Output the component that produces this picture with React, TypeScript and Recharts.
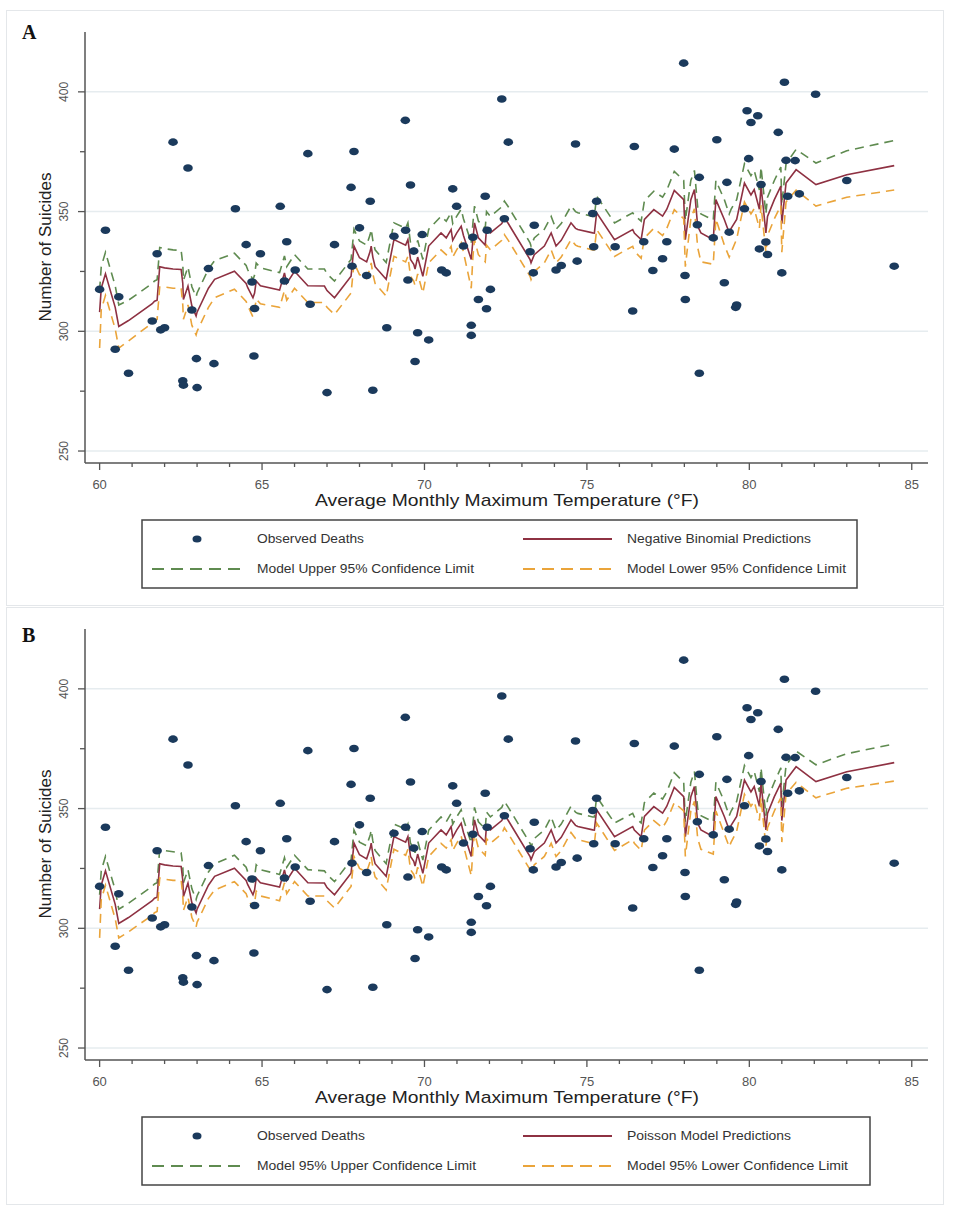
import React from "react";
import { ComposedChart, Scatter, Line, XAxis, YAxis, ReferenceLine } from "recharts";

// observed monthly suicide counts vs. average monthly max temperature
const obsTemp = [
  60.0, 60.18, 60.48, 60.59, 60.89, 61.62, 61.77, 61.88, 62.0, 62.26,
  62.56, 62.58, 62.72, 62.84, 62.98, 63.0, 63.35, 63.52, 64.18, 64.51,
  64.69, 64.75, 64.77, 64.95, 65.56, 65.69, 65.76, 66.02, 66.41, 66.48,
  67.0, 67.23, 67.74, 67.77, 67.83, 68.0, 68.22, 68.33, 68.41, 68.84,
  69.06, 69.41, 69.42, 69.49, 69.57, 69.67, 69.71, 69.79, 69.93, 70.13,
  70.53, 70.67, 70.87, 70.99, 71.2, 71.44, 71.44, 71.49, 71.66, 71.87,
  71.91, 71.93, 72.03, 72.38, 72.46, 72.58, 73.25, 73.35, 73.38, 74.05,
  74.21, 74.65, 74.7, 75.18, 75.21, 75.3, 75.87, 76.41, 76.46, 76.75,
  77.03, 77.33, 77.46, 77.69, 77.98, 78.02, 78.03, 78.4, 78.46, 78.46,
  78.89, 79.0, 79.23, 79.31, 79.38, 79.58, 79.61, 79.85, 79.93, 79.98,
  80.05, 80.26, 80.31, 80.36, 80.51, 80.56, 80.89, 81.0, 81.08, 81.13,
  81.18, 81.41, 81.54, 82.04, 83.0, 84.46,
];
const obsDeaths = [
  317.5, 342.2, 292.5, 314.4, 282.5, 304.3, 332.4, 300.6, 301.5, 379,
  279.3, 277.5, 368.2, 308.9, 288.6, 276.5, 326.2, 286.5, 351.2, 336.2,
  320.6, 289.7, 309.5, 332.4, 352.2, 321, 337.4, 325.6, 374.2, 311.3,
  274.4, 336.2, 360.1, 327.2, 375.1, 343.2, 323.3, 354.3, 275.4, 301.5,
  339.7, 388.1, 342.2, 321.4, 361.1, 333.5, 287.4, 299.4, 340.4, 296.4,
  325.6, 324.4, 359.5, 352.2, 335.6, 302.5, 298.3, 339.3, 313.3, 356.4,
  309.4, 342.2, 317.5, 397, 347, 379, 333.2, 324.4, 344.3, 325.6,
  327.5, 378.2, 329.3, 349.2, 335.3, 354.3, 335.3, 308.5, 377.2, 337.4,
  325.4, 330.3, 337.4, 376.1, 412, 323.3, 313.3, 344.5, 364.3, 282.5,
  339, 380, 320.3, 362.2, 341.4, 310, 311, 351.2, 392.1, 372.1,
  387.2, 390, 334.4, 361.3, 337.3, 332.1, 383.1, 324.4, 404, 371.4,
  356.4, 371.3, 357.4, 399, 363, 327.2,
];

// model curves (vertices of the prediction lines)
const predTemp = [
  60.0, 60.05, 60.18, 60.48, 60.59, 60.89, 61.62, 61.69, 61.77, 61.85,
  62.0, 62.26, 62.51, 62.56, 62.58, 62.72, 62.84, 62.97, 63.0, 63.35,
  63.54, 64.15, 64.51, 64.56, 64.72, 64.77, 64.82, 64.95, 65.54, 65.69,
  65.76, 66.0, 66.41, 66.92, 67.0, 67.23, 67.74, 67.77, 67.83, 68.0,
  68.22, 68.33, 68.36, 68.41, 68.48, 68.82, 68.84, 69.06, 69.42, 69.49,
  69.57, 69.67, 69.71, 69.79, 69.95, 70.13, 70.51, 70.67, 70.82, 70.87,
  70.99, 71.13, 71.2, 71.44, 71.49, 71.54, 71.66, 71.87, 71.91, 72.03,
  72.38, 72.46, 72.58, 73.25, 73.28, 73.38, 73.69, 73.9, 74.05, 74.21,
  74.51, 74.65, 74.72, 75.18, 75.23, 75.3, 75.85, 76.41, 76.46, 76.67,
  76.77, 77.06, 77.33, 77.46, 77.69, 77.98, 78.03, 78.2, 78.31, 78.41,
  78.51, 78.89, 78.97, 79.23, 79.38, 79.44, 79.61, 79.85, 80.05, 80.15,
  80.31, 80.36, 80.51, 80.56, 80.77, 80.97, 81.0, 81.13, 81.44, 82.05,
  83.0, 84.46,
];
const predNB = [
  308, 318, 324, 310, 302, 304.5, 311.5, 312.6, 313, 327,
  326.5, 326, 325.8, 320, 313.3, 318.9, 310.6, 306.4, 308, 318,
  321.7, 325.1, 320, 318.2, 314, 316, 321, 319, 317.2, 324.4,
  320, 325.1, 319, 318.9, 317, 314, 323, 327, 335.6, 330.7,
  329, 333.5, 335.6, 331, 327, 321.7, 323, 338.3, 336, 338.3,
  330, 328, 326, 331, 323, 335.6, 341.1, 339, 342.5, 338,
  341, 343.9, 340, 330, 338, 345.3, 339, 336, 343, 341.1,
  345, 347.4, 345, 330, 328.6, 332, 335.6, 341.1, 335.6, 338,
  345.3, 343, 342.5, 341.1, 341, 349.5, 338.3, 342.5, 341, 338.3,
  346.7, 350.8, 348.1, 351, 358.8, 355, 338.3, 355, 359.2, 343.9,
  341.1, 338.3, 355, 346.7, 341.1, 343, 346.7, 361.9, 357, 359.2,
  351, 360.6, 341.1, 348, 355, 360.6, 345, 361.9, 367.5, 361.3,
  365.4, 369.2,
];
const upperNB = [
  317, 327, 333, 319, 311, 313, 320, 321, 321.5, 335,
  334.5, 334, 333.8, 328, 321.3, 326.9, 318.6, 314.4, 316, 326,
  329.5, 332.6, 327.5, 325.7, 321.5, 323.5, 328.5, 326.5, 324.5, 331.5,
  327, 332, 326, 326, 324, 321, 330, 334, 342.6, 337.7,
  336, 340.5, 342.6, 338, 334, 328.7, 330, 345.3, 343, 345.3,
  337, 335, 333, 338, 330, 342.6, 348, 346, 349.5, 345,
  348, 351, 347, 337, 345, 352.3, 346, 343, 350, 348,
  352, 354.4, 352, 337, 335.6, 339, 342.6, 348, 342.6, 345,
  352.3, 350, 349.5, 348, 348, 356.5, 345.3, 349.5, 348.5, 346,
  354.5, 358.5, 356, 359, 366.8, 363, 346.3, 363, 367.2, 352,
  349, 346.5, 363, 355, 349, 351, 355, 370, 365, 367.2,
  359, 368.6, 349, 356, 363, 368.6, 353, 370, 376, 370.3,
  375.4, 379.7,
];
const lowerNB = [
  293, 309, 315, 301, 293, 296, 303.5, 304.6, 305, 318.5,
  318.5, 318, 318, 311, 305, 311, 302.5, 298.5, 300, 310,
  314, 317.6, 312.5, 310.7, 306, 308.5, 313.5, 311.5, 310, 317,
  313, 318, 312, 312, 310, 307, 316, 320, 328.6, 323.7,
  322, 326.5, 328.6, 324, 320, 314.7, 316, 331.3, 329, 331.3,
  323, 321, 319, 324, 316, 328.6, 334, 332, 335.5, 331,
  334, 337, 333, 318, 331, 338.3, 332, 329, 336, 334,
  338, 340.4, 338, 323, 321.6, 325, 328.6, 334, 328.6, 331,
  338.3, 336, 335.5, 334, 334, 342.5, 331.3, 335.5, 333.5, 330.5,
  339, 343, 340, 343, 350.8, 347, 327, 347, 351.2, 335,
  329, 328, 347, 336, 331, 333, 338.5, 354, 349, 351.2,
  343, 352.6, 333, 340, 347, 352.6, 333, 354, 359, 352.3,
  356, 359,
];
// the Poisson point predictions read the same as the negative binomial ones
const predPoisson = predNB;
const upperPoisson = [
  314, 324, 330, 316, 308, 310.5, 317.5, 318.5, 319, 333,
  332.5, 332, 331.5, 326, 319, 324.5, 316.5, 312, 313.5, 323.5,
  327, 330.5, 325.5, 323.5, 319.5, 321.5, 326.5, 324.5, 322.5, 329.5,
  325.5, 330.5, 324.5, 324, 322.5, 319.5, 328.5, 332.5, 341, 336,
  334.5, 339, 341, 336.5, 332.5, 327, 328.5, 343.5, 341.5, 343.5,
  335.5, 333.5, 331.5, 336.5, 328.5, 341, 346.5, 344.5, 348, 343.5,
  346.5, 349.5, 345.5, 335.5, 343.5, 350.5, 344.5, 341.5, 348.5, 346.5,
  350.5, 353, 350.5, 335.5, 334, 337.5, 341, 346.5, 341, 343.5,
  351, 348.5, 348, 346.5, 346.5, 355, 344, 348, 346.5, 344,
  352.5, 356.5, 354, 357, 365, 361, 344.5, 361, 365.5, 350,
  347, 344.5, 361, 353, 347, 349, 353, 368, 363, 365.5,
  357, 367, 347, 354, 361, 367, 351, 368, 374, 368.3,
  372.9, 377,
];
const lowerPoisson = [
  296, 312, 318, 304, 296, 298.5, 305.5, 306.5, 307, 321,
  320.5, 320, 320, 314, 307.5, 313, 304.5, 300.5, 302.5, 312.5,
  316, 319.5, 314.5, 312.5, 308.5, 310.5, 315.5, 313.5, 311.5, 319,
  314.5, 319.5, 313.5, 313.5, 311.5, 308.5, 317.5, 321.5, 330, 325,
  323.5, 328, 330, 325.5, 321.5, 316, 317.5, 333, 330.5, 333,
  324.5, 322.5, 320.5, 325.5, 317.5, 330, 335.5, 333.5, 337, 332.5,
  335.5, 338.5, 334.5, 322, 332.5, 340, 333.5, 330.5, 337.5, 335.5,
  339.5, 342, 339.5, 324.5, 323, 326.5, 330, 335.5, 330, 332.5,
  340, 337.5, 337, 335.5, 335.5, 344, 332.5, 337, 335.5, 332.5,
  341, 345, 342, 345, 352.5, 349, 330, 349, 353, 337.5,
  333, 331, 349, 339.5, 334, 336, 340.5, 356, 351, 353,
  345, 354.5, 334, 342, 349, 354.5, 336, 356, 361, 354.5,
  358.5, 361.5,
];

const xTicks = [60, 61, 62, 63, 64, 65, 66, 67, 68, 69, 70, 71, 72, 73, 74, 75, 76, 77, 78, 79, 80, 81, 82, 83, 84, 85];
const yTicks = [250, 275, 300, 325, 350, 375, 400];
const gridValues = [250, 300, 350, 400];

const DOT = "#1b3a5c";
const PRED = "#8e3142";
const UPPER = "#5f8b50";
const LOWER = "#eaa43a";
const AXIS = "#555";
const FONT = "'Liberation Sans', Arial, sans-serif";

const W = 953;
const CH = 500;
const PLOT_LEFT = 85;
const PLOT_BOTTOM = 463;

const obsData = obsTemp.map((t, i) => ({ t, v: obsDeaths[i] }));

function XTick(props: any) {
  const { x, payload } = props;
  const major = payload.value % 5 === 0;
  return (
    <g>
      <line x1={x} x2={x} y1={PLOT_BOTTOM} y2={PLOT_BOTTOM + (major ? 7 : 4)} stroke={AXIS} strokeWidth={1.3} />
      {major && (
        <text x={x} y={PLOT_BOTTOM + 26} textAnchor="middle" fontSize={13} fill="#555" fontFamily={FONT}>
          {payload.value}
        </text>
      )}
    </g>
  );
}

function YTick(props: any) {
  const { y, payload } = props;
  const major = payload.value % 50 === 0;
  return (
    <g>
      <line x1={PLOT_LEFT - (major ? 7 : 5)} x2={PLOT_LEFT} y1={y} y2={y} stroke={AXIS} strokeWidth={1.3} />
      {major && (
        <text transform={`translate(68,${y}) rotate(-90)`} textAnchor="middle" fontSize={12} fill="#555" fontFamily={FONT}>
          {payload.value}
        </text>
      )}
    </g>
  );
}

function ObsDot(props: any) {
  const { cx, cy } = props;
  return <ellipse cx={cx} cy={cy} rx={4.8} ry={3.8} fill={DOT} />;
}

type PanelProps = {
  top: number;
  pred: number[];
  upper: number[];
  lower: number[];
};

function PanelChart({ top, pred, upper, lower }: PanelProps) {
  const lineData = predTemp.map((t, i) => ({ t, pred: pred[i], upper: upper[i], lower: lower[i] }));
  return (
    <div style={{ position: "absolute", left: 0, top, width: W, height: CH }}>
      <ComposedChart width={W} height={CH} data={lineData} margin={{ top: 32, right: 25, bottom: 7, left: 45 }}>
        <XAxis
          dataKey="t"
          type="number"
          domain={[59.55, 85.5]}
          allowDataOverflow
          ticks={xTicks}
          interval={0}
          tick={<XTick />}
          tickLine={false}
          tickSize={0}
          height={30}
          axisLine={{ stroke: AXIS, strokeWidth: 1.5 }}
        />
        <YAxis
          type="number"
          domain={[245, 425]}
          allowDataOverflow
          ticks={yTicks}
          interval={0}
          tick={<YTick />}
          tickLine={false}
          tickSize={0}
          width={40}
          axisLine={{ stroke: AXIS, strokeWidth: 1.5 }}
        />
        {gridValues.map((v) => (
          <ReferenceLine key={v} y={v} stroke="#e6ecef" strokeWidth={1.5} />
        ))}
        <Scatter data={obsData} dataKey="v" shape={<ObsDot />} isAnimationActive={false} />
        <Line dataKey="upper" stroke={UPPER} strokeWidth={1.6} strokeDasharray="9 6" dot={false} isAnimationActive={false} />
        <Line dataKey="pred" stroke={PRED} strokeWidth={1.6} dot={false} isAnimationActive={false} />
        <Line dataKey="lower" stroke={LOWER} strokeWidth={1.6} strokeDasharray="9 6" dot={false} isAnimationActive={false} />
      </ComposedChart>
    </div>
  );
}

type LegendItem = { label: string; len: number };

function Labels({ dy, letter, letterY, items, boxRight }: { dy: number; letter: string; letterY: number; items: LegendItem[]; boxRight: number }) {
  const r1 = 539 + dy;
  const r2 = 569 + dy;
  return (
    <g fontFamily={FONT}>
      <text x={22} y={letterY} fontFamily="'Liberation Serif', 'DejaVu Serif', serif" fontWeight="bold" fontSize={20} fill="#111">
        {letter}
      </text>
      <text transform={`translate(51,${247 + dy}) rotate(-90)`} textAnchor="middle" fontSize={16} fill="#222" textLength={149} lengthAdjust="spacingAndGlyphs">
        Number of Suicides
      </text>
      <text x={507} y={506 + dy} textAnchor="middle" fontSize={17} fill="#222" textLength={384} lengthAdjust="spacingAndGlyphs">
        Average Monthly Maximum Temperature (°F)
      </text>
      <rect x={142} y={520 + dy} width={boxRight - 142} height={68} fill="#fff" stroke="#444" strokeWidth={1.5} />
      <ellipse cx={197} cy={r1} rx={4.5} ry={3.6} fill={DOT} />
      <text x={257} y={r1 + 4} fontSize={12} fill="#333" textLength={items[0].len} lengthAdjust="spacingAndGlyphs">
        {items[0].label}
      </text>
      <line x1={523} x2={612} y1={r1} y2={r1} stroke={PRED} strokeWidth={2} />
      <text x={627} y={r1 + 4} fontSize={12} fill="#333" textLength={items[1].len} lengthAdjust="spacingAndGlyphs">
        {items[1].label}
      </text>
      <line x1={152} x2={244} y1={r2} y2={r2} stroke={UPPER} strokeWidth={2} strokeDasharray="12 7" />
      <text x={257} y={r2 + 4} fontSize={12} fill="#333" textLength={items[2].len} lengthAdjust="spacingAndGlyphs">
        {items[2].label}
      </text>
      <line x1={523} x2={612} y1={r2} y2={r2} stroke={LOWER} strokeWidth={2} strokeDasharray="12 7" />
      <text x={627} y={r2 + 4} fontSize={12} fill="#333" textLength={items[3].len} lengthAdjust="spacingAndGlyphs">
        {items[3].label}
      </text>
    </g>
  );
}

const legendNB: LegendItem[] = [
  { label: "Observed Deaths", len: 107 },
  { label: "Negative Binomial Predictions", len: 184 },
  { label: "Model Upper 95% Confidence Limit", len: 217 },
  { label: "Model Lower 95% Confidence Limit", len: 219 },
];
const legendPoisson: LegendItem[] = [
  { label: "Observed Deaths", len: 108 },
  { label: "Poisson Model Predictions", len: 164 },
  { label: "Model 95% Upper Confidence Limit", len: 219 },
  { label: "Model 95% Lower Confidence Limit", len: 221 },
];

export default function App() {
  return (
    <div style={{ position: "absolute", left: 0, top: 0, width: W, height: 1211, background: "#fff", fontFamily: FONT, overflow: "hidden" }}>
      <div style={{ position: "absolute", left: 6, top: 10, width: 936, height: 594, border: "1.5px solid #e4e7ea" }} />
      <div style={{ position: "absolute", left: 6, top: 607, width: 936, height: 596, border: "1.5px solid #e4e7ea" }} />
      <PanelChart top={0} pred={predNB} upper={upperNB} lower={lowerNB} />
      <PanelChart top={597} pred={predPoisson} upper={upperPoisson} lower={lowerPoisson} />
      <svg width={W} height={1211} style={{ position: "absolute", left: 0, top: 0, pointerEvents: "none" }}>
        <Labels dy={0} letter="A" letterY={39} items={legendNB} boxRight={857} />
        <Labels dy={597} letter="B" letterY={642} items={legendPoisson} boxRight={870} />
      </svg>
    </div>
  );
}
